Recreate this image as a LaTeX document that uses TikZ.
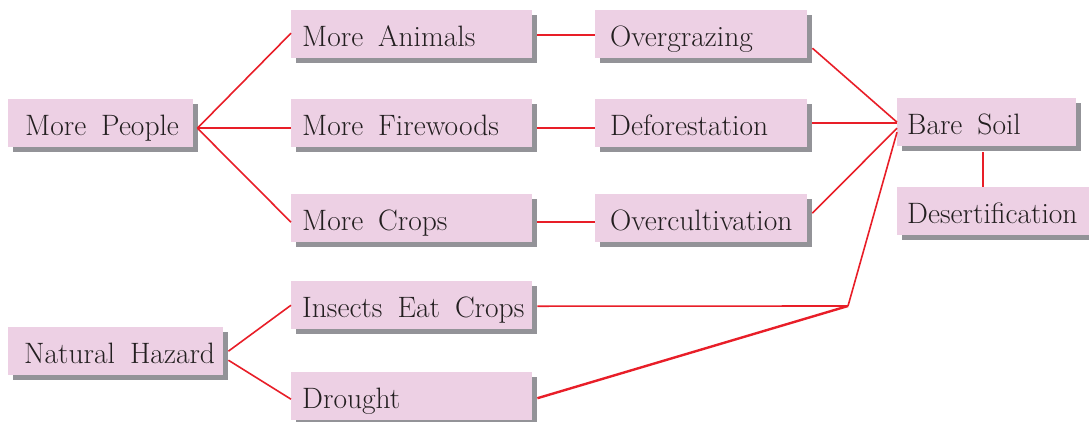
\documentclass[tikz,border=0pt]{standalone}
\usetikzlibrary{shadows}

\definecolor{boxpink}{HTML}{EDD0E4}
\definecolor{shadegray}{HTML}{939398}
\definecolor{linkred}{HTML}{E81E28}
\definecolor{inkblack}{HTML}{231F20}

% large serif labels
\newcommand\chainfont{\fontsize{29.5}{32}\selectfont}

\tikzset{
  box/.style={
    fill=boxpink, draw=none, anchor=north west,
    minimum height=48pt, inner ysep=0pt, inner xsep=0pt,
    text height=27pt, text depth=2pt,
    text=inkblack,
    font=\chainfont,
    general shadow={shadow xshift=5pt, shadow yshift=-5pt, fill=shadegray}
  },
  boxw/.style={text width=#1pt, minimum width=#1pt},
  % left padding, and wide gaps between words
  pad/.style={execute at begin node={\spaceskip=15pt\relax\hspace*{#1pt}}},
  link/.style={draw=linkred, line width=1.6pt},
  thicklink/.style={draw=linkred, line width=2.4pt}
}

\begin{document}
\begin{tikzpicture}[x=1pt, y=-1pt]
  \useasboundingbox (0,0) rectangle (1089,421);

  % left column: causes
  \node[box, boxw=185, pad=17] (people)  at (8,99)  {More People};
  \node[box, boxw=215, pad=16] (hazard)  at (8,327) {Natural Hazard};

  % middle column
  \node[box, boxw=241, pad=11] (animals)  at (291,10)  {More Animals};
  \node[box, boxw=241, pad=11] (firewood) at (291,99)  {More Firewoods};
  \node[box, boxw=241, pad=11] (crops)    at (291,194) {More Crops};
  \node[box, boxw=241, pad=11] (insects)  at (291,281) {Insects Eat Crops};
  \node[box, boxw=241, pad=11] (drought)  at (291,372) {Drought};

  % land-use column
  \node[box, boxw=212, pad=15] (graze)  at (595,10)  {Overgrazing};
  \node[box, boxw=212, pad=15] (forest) at (595,99)  {Deforestation};
  \node[box, boxw=212, pad=15] (cultiv) at (595,194) {Overcultivation};

  % results
  \node[box, boxw=179, pad=10] (bare)   at (897,98)  {Bare Soil};
  \node[box, boxw=195, pad=10] (desert) at (897,187) {Desertification};

  % meeting point of the hazard branches
  \coordinate (join) at (848,306);

  % connectors
  \draw[link] ([xshift=4pt,yshift=-5pt]people.east) -- ([yshift=1pt]animals.west);
  \draw[link] ([xshift=4pt,yshift=-5pt]people.east) -- ([yshift=-5pt]firewood.west);
  \draw[link] ([xshift=4pt,yshift=-5pt]people.east) -- ([yshift=-4pt]crops.west);

  \draw[link] ([xshift=5pt,yshift=-1pt]animals.east)  -- ([yshift=-1pt]graze.west);
  \draw[link] ([xshift=5pt,yshift=-5pt]firewood.east) -- ([yshift=-5pt]forest.west);
  \draw[link] ([xshift=5pt,yshift=-4pt]crops.east)    -- ([yshift=-4pt]cultiv.west);

  \draw[link] ([xshift=5pt,yshift=-14pt]graze.east) -- (bare.west);
  \draw[link] ([xshift=5pt]forest.east) -- ([yshift=-1pt]bare.west);
  \draw[link] ([xshift=5pt,yshift=5pt]cultiv.east) -- ([yshift=-6pt]bare.west);

  \draw[link] ([xshift=5pt]hazard.east) -- (insects.west);
  \draw[link] ([xshift=5pt,yshift=-9pt]hazard.east) -- ([yshift=-3pt]drought.west);

  \draw[link] ([xshift=5pt,yshift=-1pt]insects.east) -- (join);
  \draw[thicklink] ([xshift=5pt,yshift=-2pt]drought.east) -- (join);
  \draw[link] (join) -- ([yshift=-10pt]bare.west);

  \draw[link] ([xshift=-3.5pt,yshift=-6pt]bare.south)
    -- ([xshift=-3.5pt]bare.south |- desert.north);
\end{tikzpicture}
\end{document}
